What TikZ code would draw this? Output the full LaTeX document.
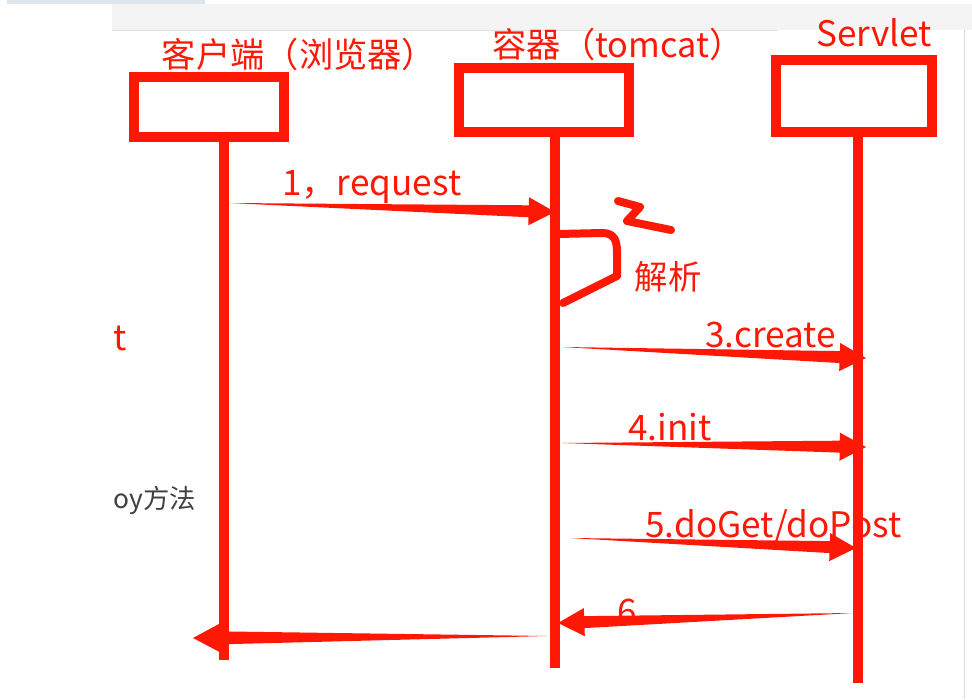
\documentclass[tikz,border=0pt]{standalone}
\usepackage{fontspec}
\setmainfont{Noto Sans CJK SC}
\usetikzlibrary{calc}
\definecolor{inkred}{RGB}{255,24,6}
\definecolor{topbar}{RGB}{222,228,235}
\definecolor{band}{RGB}{244,244,244}
\definecolor{notegray}{RGB}{64,64,64}
\newcommand{\taperarrow}[3][3.4pt]{%
  \path ($(#3)!15pt!(#2)$) coordinate (hb);
  \fill[inkred] (#2) -- ($(hb)!#1!90:(#3)$) -- ($(hb)!8pt!90:(#3)$) -- (#3)
    -- ($(hb)!8pt!-90:(#3)$) -- ($(hb)!#1!-90:(#3)$) -- cycle;}

\begin{document}
\begin{tikzpicture}[x=0.02cm,y=-0.02cm,
  box/.style={draw=inkred,line width=0.2cm,inner sep=0pt},
  life/.style={inkred,line width=0.19cm},
  title/.style={text=inkred,font=\fontsize{19.5}{23}\selectfont,inner sep=0pt},
  msg/.style={text=inkred,font=\fontsize{20}{24}\selectfont,inner sep=0pt,anchor=base west},
  ink/.style={inkred,line width=0.16cm,line cap=round,line join=round}]
\useasboundingbox (0,0) rectangle (972,699);
\fill[topbar] (7,0) rectangle (205,4);
\fill[band] (112,4) rectangle (972,30);
\draw[gray!25] (112,30) -- (778,30);
\draw[gray!30] (964,30) -- (964,699);

\node[box,minimum width=3cm,minimum height=1.22cm] (client) at (209,107) {};
\node[box,minimum width=3.4cm,minimum height=1.28cm] (tomcat) at (544,100) {};
\node[box,minimum width=3.12cm,minimum height=1.44cm] (servlet) at (854,96) {};
\node[title] (clientname) at (299,54) {客户端（浏览器）};
\node[title] (tomcatname) at (618,44) {容器（tomcat）};
\node[title,font=\fontsize{20}{24}\selectfont,anchor=base] (servletname) at (874,47) {Servlet};

\node[msg] (m1) at (282,195) {1，request};
\node[msg] (m3) at (705,347) {3.create};
\node[msg] (m4) at (628,440) {4.init};
\node[msg] (m5) at (645,537) {5.doGet/doPost};
\node[msg] (m6) at (617,624) {6};
\node[text=inkred,font=\fontsize{19}{22}\selectfont,inner sep=0pt] (parse) at (668,277) {解析};
\node[msg] (tside) at (113,350) {t};
\node[text=notegray,font=\fontsize{15}{18}\selectfont,inner sep=0pt] (note) at (155,500) {oy方法};

\coordinate (clientend) at (224,660);
\coordinate (tomcatend) at (555,668);
\coordinate (servletend) at (858,683);
\draw[life] (client.south -| clientend) -- (clientend);
\draw[life] (tomcat.south -| tomcatend) -- (tomcatend);
\draw[life] (servlet.south -| servletend) -- (servletend);

\coordinate (m1a) at (229,203); \coordinate (m1b) at (555,212);
\coordinate (m3a) at (562,347); \coordinate (m3b) at (866,358);
\coordinate (m4a) at (562,443); \coordinate (m4b) at (866,447);
\coordinate (m5a) at (570,538); \coordinate (m5b) at (856,548);
\coordinate (m6a) at (853,613); \coordinate (m6b) at (558,623);
\coordinate (m7a) at (547,636); \coordinate (m7b) at (193,638);
\taperarrow{m1a}{m1b}
\taperarrow{m3a}{m3b}
\taperarrow{m4a}{m4b}
\taperarrow{m5a}{m5b}
\taperarrow{m6a}{m6b}
\taperarrow[3.7pt]{m7a}{m7b}

\draw[ink] (558,234) -- (602,233) .. controls (614,233) and (617,240) .. (617,252)
  -- (617,276) -- (563,303);
\draw[ink] (618,201) -- (640,207) -- (627,221) -- (671,230);
\end{tikzpicture}
\end{document}
